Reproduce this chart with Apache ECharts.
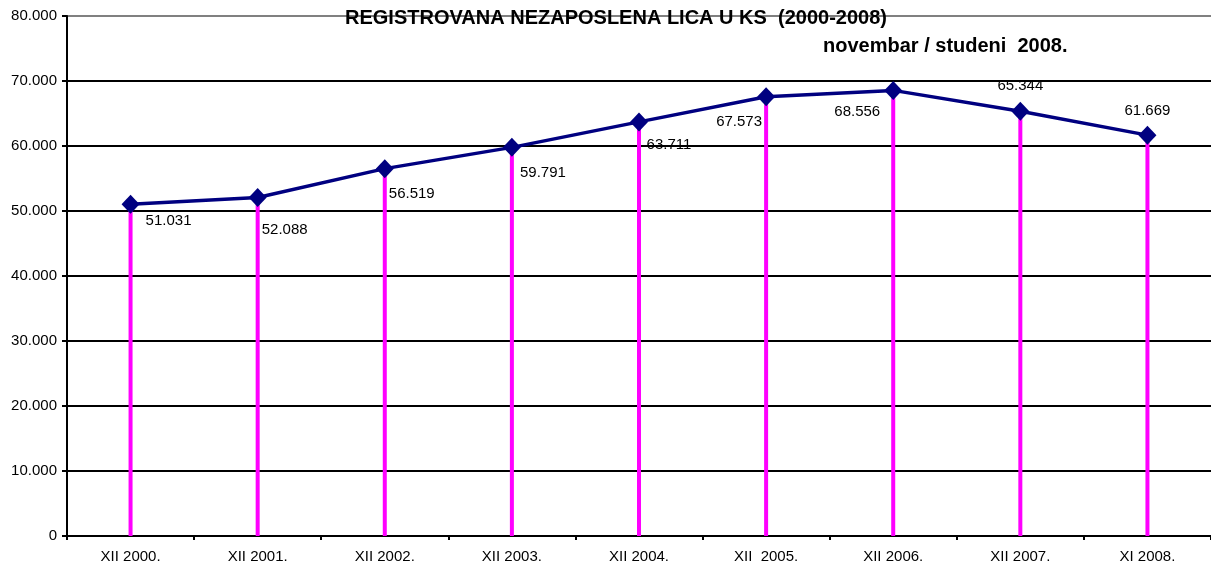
<!DOCTYPE html>
<html>
<head>
<meta charset="utf-8">
<script src="https://cdn.jsdelivr.net/npm/echarts@6/dist/echarts.min.js"></script>
<style>
  html, body { margin: 0; padding: 0; background: #fff; }
  #chart { width: 1211px; height: 565px; }
</style>
</head>
<body>
<div id="chart"></div>
<script>
var categories = ['XII 2000.', 'XII 2001.', 'XII 2002.', 'XII 2003.', 'XII 2004.', 'XII  2005.', 'XII 2006.', 'XII 2007.', 'XI 2008.'];
var unemployed = [51031, 52088, 56519, 59791, 63711, 67573, 68556, 65344, 61669];
// label offsets from each marker
var labelOffsets = [[38, 17], [27, 32], [27, 25], [31, 26], [30, 23], [-27, 25], [-36, 21], [0, -25], [0, -24]];

function fmt(v) {
  return v === 0 ? '0' : v.toString().replace(/(\d)(?=(?:\d{3})+$)/g, '$1.');
}

var chart = echarts.init(document.getElementById('chart'));
chart.setOption({
  animation: false,
  textStyle: { fontFamily: 'Liberation Sans, Arial, sans-serif' },
  title: [
    {
      text: 'REGISTROVANA NEZAPOSLENA LICA U KS  (2000-2008)',
      left: 611, top: 3, textAlign: 'center',
      textStyle: { fontSize: 20, fontWeight: 'bold', color: '#000' }
    },
    {
      text: 'novembar / studeni  2008.',
      left: 818, top: 31,
      textStyle: { fontSize: 20, fontWeight: 'bold', color: '#000' }
    }
  ],
  grid: { left: 67, right: 0, top: 16, bottom: 29 },
  xAxis: {
    type: 'category',
    data: categories,
    axisLine: { lineStyle: { color: '#000', width: 2 } },
    axisTick: { show: true, length: 4, lineStyle: { color: '#000', width: 2 } },
    axisLabel: { color: '#000', fontSize: 15, margin: 13 }
  },
  yAxis: {
    type: 'value',
    min: 0, max: 80000, interval: 10000,
    axisLine: { show: true, lineStyle: { color: '#000', width: 2 } },
    axisTick: { show: true, length: 5, lineStyle: { color: '#000', width: 2 } },
    axisLabel: { color: '#000', fontSize: 15, margin: 10, formatter: fmt },
    splitLine: {
      lineStyle: {
        width: 2,
        color: ['#000', '#000', '#000', '#000', '#000', '#000', '#000', '#000', '#808080']
      }
    }
  },
  series: [
    {
      name: 'drop',
      type: 'bar',
      barWidth: 4,
      barGap: '-100%',
      itemStyle: { color: '#FF00FF' },
      data: unemployed,
      z: 2
    },
    {
      name: 'Nezaposleni',
      type: 'line',
      data: unemployed.map(function (v, i) {
        return {
          value: v,
          label: { offset: labelOffsets[i] }
        };
      }),
      symbol: 'diamond',
      symbolSize: [18, 19],
      lineStyle: { color: '#000080', width: 3.5 },
      itemStyle: { color: '#000080' },
      label: {
        show: true,
        position: 'inside',
        color: '#000',
        fontSize: 15,
        formatter: function (p) { return fmt(p.value); }
      },
      z: 3
    }
  ]
});
</script>
</body>
</html>
